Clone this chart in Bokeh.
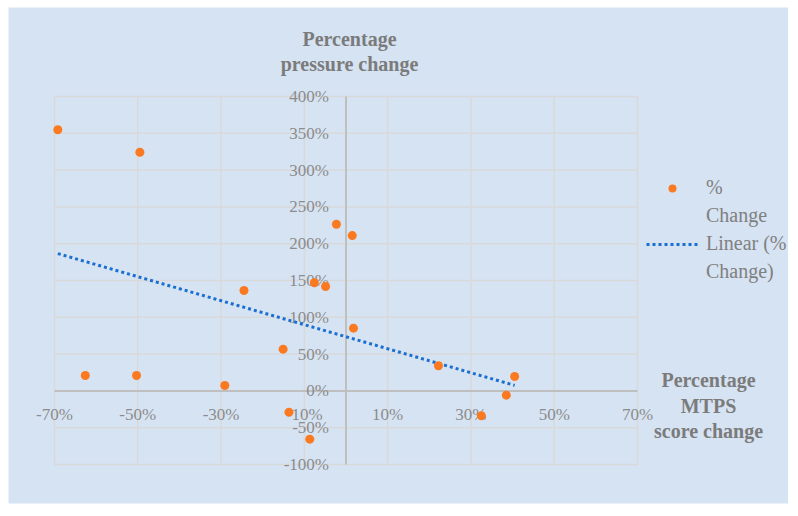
import numpy as np
from bokeh.plotting import figure
from bokeh.models import Range1d, Label, Legend, LegendItem
from bokeh.core.properties import value
from bokeh.embed import file_html
from bokeh.resources import INLINE

# ---- data (percent) ----
mtps_change = [-69.2, -49.5, -2.3, 1.5, -24.5, -7.6, -4.9, 1.8, -15.1,
               -62.6, -50.3, -29.1, -13.7, -8.7, 22.2, 40.5, 38.5, 32.5]
pressure_change = [354.8, 324.3, 226.5, 211.0, 136.4, 146.9, 141.8, 85.2, 56.7,
                   20.9, 20.9, 7.3, -28.9, -65.6, 34.1, 19.6, -5.8, -33.8]
x_ticks = [-70, -50, -30, -10, 10, 30, 50, 70]
y_ticks = [-100, -50, 0, 50, 100, 150, 200, 250, 300, 350, 400]
x_tick_labels = [f"{t}%" for t in x_ticks]
y_tick_labels = [f"{t}%" for t in y_ticks]

BG = "#d6e3f3"
TICK_C = "#8c8c8c"
TITLE_C = "#7b7b7b"
LEG_C = "#808080"
FONT = "Liberation Serif"

# frame = coloured chart area (780 x 496); plot region inside it
FW, FH = 780, 496
PL, PR, PT, PB = 46, 629, 89, 457          # plot-area pixel bounds inside frame
xs = (PR - PL) / (x_ticks[-1] - x_ticks[0])
ys = (PB - PT) / (y_ticks[-1] - y_ticks[0])
x_range = Range1d(x_ticks[0] - PL / xs, x_ticks[-1] + (FW - PR) / xs)
y_range = Range1d(y_ticks[0] - (FH - PB) / ys, y_ticks[-1] + PT / ys)

p = figure(width=788, height=504, output_backend="svg", toolbar_location=None,
           x_axis_location=None, y_axis_location=None,
           x_range=x_range, y_range=y_range,
           min_border_left=8, min_border_right=0, min_border_top=7,
           min_border_bottom=1)
p.grid.visible = False
p.background_fill_color = BG
p.border_fill_color = "white"
p.outline_line_color = None

grid_c = "#d9d9d9"
p.segment(x0=x_ticks, y0=[y_ticks[0]] * len(x_ticks), x1=x_ticks,
          y1=[y_ticks[-1]] * len(x_ticks), line_color=grid_c, line_width=1.5)
p.segment(x0=[x_ticks[0]] * len(y_ticks), y0=y_ticks, x1=[x_ticks[-1]] * len(y_ticks),
          y1=y_ticks, line_color=grid_c, line_width=1.5)
# axes crossing at zero
p.segment(x0=[0, x_ticks[0]], y0=[y_ticks[0], 0], x1=[0, x_ticks[-1]], y1=[y_ticks[-1], 0],
          line_color="#bfbfbf", line_width=2)

# tick labels placed at axis crossing
p.text(x=x_ticks, y=[0] * len(x_ticks), text=x_tick_labels, text_align="center",
       text_baseline="middle", y_offset=24, text_font=value(FONT),
       text_font_size="17px", text_color=TICK_C)
p.text(x=[0] * len(y_ticks), y=y_ticks, text=y_tick_labels, text_align="right",
       text_baseline="middle", x_offset=-17, text_font=value(FONT),
       text_font_size="17px", text_color=TICK_C)

# trendline (least squares)
coef = np.polyfit(mtps_change, pressure_change, 1)
tx = [min(mtps_change), max(mtps_change)]
ty = [coef[0] * v + coef[1] for v in tx]
trend = p.line(tx, ty, line_color="#1a6fd0", line_width=3, line_dash="3 3")

pts = p.scatter(mtps_change, pressure_change, size=9, fill_color="#fb7a21",
                line_color=None)

legend = Legend(items=[LegendItem(label="%", renderers=[pts]),
                       LegendItem(label="Change", renderers=[]),
                       LegendItem(label="Linear (%", renderers=[trend]),
                       LegendItem(label="Change)", renderers=[])],
                location=(638, 220), background_fill_alpha=0, border_line_color=None,
                label_text_font=FONT, label_text_font_size="20px",
                label_text_color=LEG_C, glyph_width=52, glyph_height=20,
                label_standoff=8, label_height=20,
                spacing=5, padding=0, margin=0)
p.add_layout(legend)

for txt, sy in [("Percentage", 465), ("pressure change", 440)]:
    p.add_layout(Label(x=341, y=sy, x_units="screen", y_units="screen", text=txt,
                       text_align="center", text_baseline="middle",
                       text_font=FONT, text_font_size="20px",
                       text_font_style="bold", text_color=TITLE_C))
for txt, sy in [("Percentage", 124), ("MTPS", 98), ("score change", 73)]:
    p.add_layout(Label(x=700, y=sy, x_units="screen", y_units="screen", text=txt,
                       text_align="center", text_baseline="middle",
                       text_font=FONT, text_font_size="20px",
                       text_font_style="bold", text_color=TITLE_C))

open("out.html", "w").write(file_html(p, INLINE))
